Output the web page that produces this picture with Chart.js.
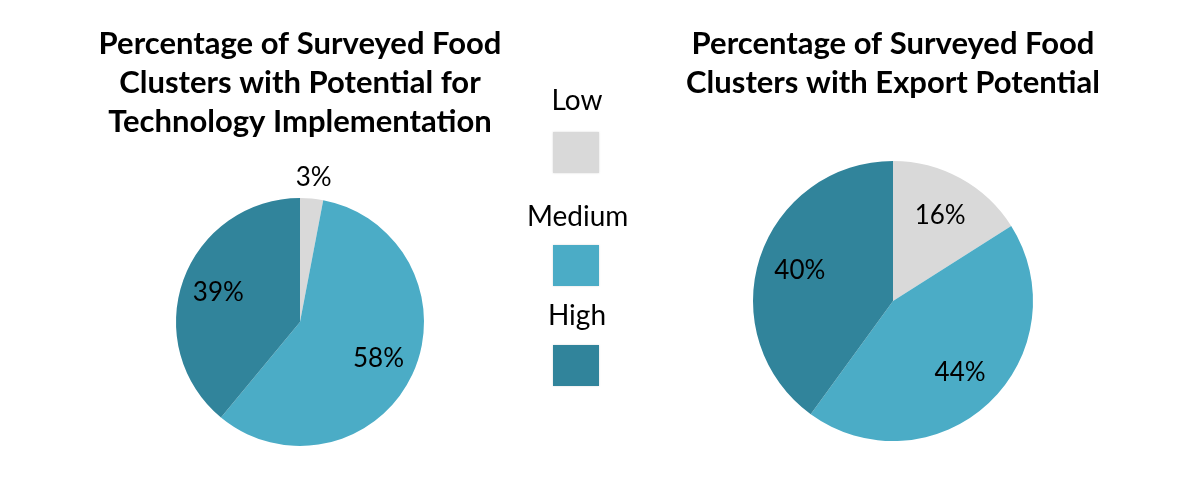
<!DOCTYPE html>
<html>
<head>
<meta charset="utf-8">
<script src="https://cdn.jsdelivr.net/npm/chart.js@4"></script>
<style>
  body { margin: 0; background: #fff; }
  #wrap { position: relative; width: 1197px; height: 501px; overflow: hidden; }
  #techChart { position: absolute; left: 0; top: 0; }
  #exportChart { position: absolute; left: 593px; top: 0; }
  #legend { position: absolute; left: 527px; top: 0; width: 100px; font-family: Lato, sans-serif; font-size: 28px; color: #000; }
  .lg-text { position: absolute; width: 100px; text-align: center; line-height: 30px; }
  .lg-box { position: absolute; left: 26px; width: 46px; height: 41px; box-shadow: 0 0 2px rgba(0,0,0,0.15); }
</style>
</head>
<body>
<div id="wrap">
  <canvas id="techChart" width="600" height="501"></canvas>
  <canvas id="exportChart" width="600" height="501"></canvas>
  <div id="legend"></div>
</div>
<script>
// categories + values
let categories = [`Low`, `Medium`, `High`];
let techValues = [3, 58, 39];
let exportValues = [16, 44, 40];
let colors = [`#d9d9d9`, `#4bacc6`, `#31849b`];

let techTitle = [`Percentage of Surveyed Food`, `Clusters with Potential for`, `Technology Implementation`];
let exportTitle = [`Percentage of Surveyed Food`, `Clusters with Export Potential`];

// legend (label above box, stacked)
let legendTextY = [84, 200, 299];
let legendBoxY = [132, 245, 345];
let legendDiv = document.getElementById('legend');
categories.forEach((c, i) => {
    let t = document.createElement('div');
    t.className = 'lg-text';
    t.style.top = legendTextY[i] + 'px';
    t.textContent = c;
    legendDiv.appendChild(t);
    let b = document.createElement('div');
    b.className = 'lg-box';
    b.style.top = legendBoxY[i] + 'px';
    b.style.background = colors[i];
    legendDiv.appendChild(b);
});

// draws the % label of each slice; small slices go outside
let pieLabels = {
    id: 'pieLabels',
    afterDatasetsDraw(chart) {
        let ctx = chart.ctx;
        let meta = chart.getDatasetMeta(0);
        ctx.save();
        ctx.font = '26px Lato';
        ctx.fillStyle = '#000';
        ctx.textAlign = 'center';
        ctx.textBaseline = 'middle';
        meta.data.forEach((arc, i) => {
            let v = chart.data.datasets[0].data[i];
            let mid = (arc.startAngle + arc.endAngle) / 2;
            let f = v < 5 ? 1.17 : 0.7;
            let x = arc.x + Math.cos(mid) * arc.outerRadius * f;
            let y = arc.y + Math.sin(mid) * arc.outerRadius * f;
            ctx.fillText(v + '%', x, y);
        });
        ctx.restore();
    }
};

function makePie(id, values, title, titleBottom, padBottom) {
    return new Chart(document.getElementById(id).getContext("2d"), {
        type: "pie",
        data: {
            labels: categories,
            datasets: [{
                data: values,
                backgroundColor: colors,
                borderWidth: 0
            }]
        },
        options: {
            responsive: false,
            animation: false,
            layout: { padding: { top: 0, bottom: padBottom, left: 0, right: 0 } },
            plugins: {
                legend: { display: false },
                tooltip: { enabled: false },
                title: {
                    display: true,
                    text: title,
                    color: `#000`,
                    font: { family: 'Lato', size: 31, weight: 'bold', lineHeight: '39px' },
                    padding: { top: 24, bottom: titleBottom }
                }
            }
        },
        plugins: [pieLabels]
    });
}

let techChart = makePie('techChart', techValues, techTitle, 57, 55);
let exportChart = makePie('exportChart', exportValues, exportTitle, 59, 60);
</script>
</body>
</html>
